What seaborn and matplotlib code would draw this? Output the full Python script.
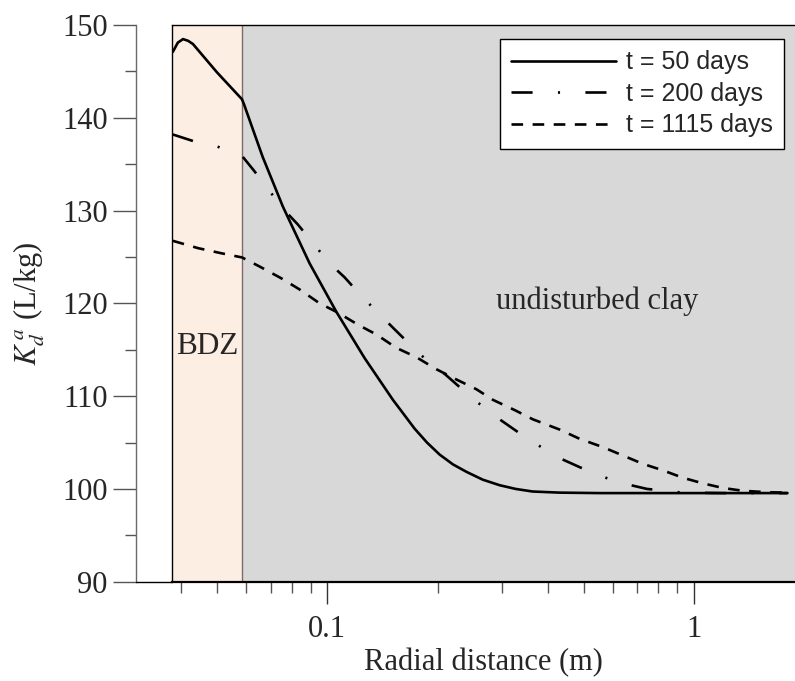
import numpy as np
import pandas as pd
import matplotlib
matplotlib.use('Agg')
import matplotlib.pyplot as plt
import seaborn as sns
from matplotlib.ticker import FixedLocator, NullFormatter, MultipleLocator

# ---------------- data ----------------
r_50 = [0.0379, 0.0391, 0.0404, 0.0417, 0.0430, 0.0500, 0.0585, 0.0592, 0.0666,
        0.0757, 0.0895, 0.1058, 0.1264, 0.1510, 0.1620, 0.1730, 0.1870, 0.2025,
        0.2200, 0.2394, 0.2653, 0.2951, 0.3263, 0.3631, 0.4302, 0.5532, 1.0000,
        1.8000]
kd_50 = [147.1, 148.1, 148.48, 148.3, 147.95, 144.9, 142.0, 141.5, 135.8,
         130.4, 124.3, 119.1, 114.1, 109.6, 108.0, 106.5, 105.0, 103.7,
         102.65, 101.85, 101.0, 100.4, 100.0, 99.72, 99.6, 99.55, 99.55,
         99.55]

r_200 = [0.0379, 0.0430, 0.0501, 0.0585, 0.0631, 0.0693, 0.0757, 0.0831, 0.0918,
         0.1015, 0.1115, 0.1238, 0.1374, 0.1517, 0.1687, 0.1921, 0.2089, 0.2354,
         0.2658, 0.2951, 0.3346, 0.3834, 0.4256, 0.4909, 0.5648, 0.6403, 0.7444,
         0.9312, 1.2000, 1.8000]
kd_200 = [138.2, 137.5, 136.9, 135.9, 134.3, 132.2, 130.2, 128.5, 126.4,
          124.3, 122.8, 120.8, 119.0, 117.3, 115.5, 113.4, 112.4, 110.6,
          108.85, 107.5, 106.0, 104.5, 103.4, 102.3, 101.3, 100.6, 100.0,
          99.6, 99.55, 99.55]

r_1115 = [0.0379, 0.0444, 0.0514, 0.0585, 0.0655, 0.0749, 0.0840, 0.0953, 0.1069,
          0.1212, 0.1360, 0.1543, 0.1749, 0.1984, 0.2248, 0.2549, 0.2830, 0.3243,
          0.3637, 0.4301, 0.4878, 0.5648, 0.6403, 0.7259, 0.8232, 0.9333, 1.0583,
          1.1999, 1.3600, 1.5760, 1.8000]
kd_1115 = [126.74, 125.95, 125.4, 124.95, 123.95, 122.7, 121.5, 120.0, 119.0,
           117.7, 116.65, 115.2, 114.2, 112.9, 111.8, 110.75, 109.6, 108.5,
           107.5, 106.4, 105.4, 104.5, 103.6, 102.7, 102.0, 101.2, 100.6,
           100.1, 99.8, 99.65, 99.6]

series_labels = ['t = 50 days', 't = 200 days', 't = 1115 days']
x_major = [0.1, 1]
x_major_labels = ['0.1', '1']
x_minor = [0.04, 0.05, 0.06, 0.07, 0.08, 0.09, 0.2, 0.3, 0.4, 0.5, 0.6, 0.7, 0.8, 0.9]
bdz_edge = 0.0585
x_lo, x_hi = 0.0377, 1.887

# ---------------- figure ----------------
sns.set_style('ticks')
plt.rcParams['font.family'] = ['Liberation Serif', 'DejaVu Serif']
plt.rcParams['mathtext.fontset'] = 'stix'

W, H = 795, 681
fig = plt.figure(figsize=(W / 100, H / 100), dpi=100)
ax_l, ax_r, ax_b, ax_t = 172, 795, 581.7, 25
ax = fig.add_axes([ax_l / W, 1 - ax_b / H, (ax_r - ax_l) / W, (ax_b - ax_t) / H])
ax.set_xscale('log')
ax.set_xlim(x_lo, x_hi)
ax.set_ylim(90, 150)

ax.axvspan(x_lo, bdz_edge, facecolor='#fdeee4', edgecolor='none', zorder=0)
ax.axvspan(bdz_edge, x_hi, facecolor='#d8d8d8', edgecolor='none', zorder=0)
ax.axvline(bdz_edge, color='#7d6b6b', lw=1, zorder=1)

lw = 1.9
sns.lineplot(x=r_50, y=kd_50, ax=ax, color='black', lw=lw, linestyle='-',
             label=series_labels[0], zorder=3)
sns.lineplot(x=r_200, y=kd_200, ax=ax, color='black', lw=lw,
             linestyle=(0, (8, 9.6, 0.8, 9.6)), label=series_labels[1], zorder=3)
sns.lineplot(x=r_1115, y=kd_1115, ax=ax, color='black', lw=lw,
             linestyle=(0, (4.4, 3.6)), label=series_labels[2], zorder=3)
for ln in ax.get_lines():
    ln.set_dash_capstyle('butt')
    ln.set_solid_joinstyle('round')

# spines
ax.spines['right'].set_visible(False)
ax.spines['top'].set_color('black')
ax.spines['top'].set_linewidth(1.0)
ax.spines['bottom'].set_color('black')
ax.spines['bottom'].set_linewidth(1.6)
ax.spines['left'].set_position(('outward', 36 * 72 / 100))
ax.spines['left'].set_color('#6a6a6a')
ax.spines['left'].set_linewidth(1.0)
ax.plot([0, 0], [0, 1], transform=ax.transAxes, color='black', lw=1.0, clip_on=False, zorder=4)
ax.plot([-36 / (ax_r - ax_l), 0], [0, 0], transform=ax.transAxes, color='black', lw=1.0,
        clip_on=False, zorder=4)

# ticks
ax.xaxis.set_major_locator(FixedLocator(x_major))
ax.set_xticklabels(x_major_labels)
ax.xaxis.set_minor_locator(FixedLocator(x_minor))
ax.xaxis.set_minor_formatter(NullFormatter())
ax.yaxis.set_major_locator(MultipleLocator(10))
ax.yaxis.set_minor_locator(MultipleLocator(5))
ax.tick_params(axis='x', which='major', direction='out', length=15.8, width=1,
               color='#333333', labelsize=22, pad=8)
ax.tick_params(axis='x', which='minor', direction='out', length=8, width=1, color='#555555')
ax.tick_params(axis='y', which='major', direction='out', length=16.5, width=1,
               color='#555555', labelsize=22, pad=4)
ax.tick_params(axis='y', which='minor', direction='out', length=8, width=1, color='#555555')

ax.set_xlabel('Radial distance (m)', fontsize=22, labelpad=3)
ax.set_ylabel(r'$K_d^{\,a}$ (L/kg)', fontsize=22, labelpad=11)

ax.text(0.0472, 115.4, 'BDZ', fontsize=22.5, ha='center', va='center', zorder=5)
ax.text(0.546, 120.2, 'undisturbed clay', fontsize=22, ha='center', va='center', zorder=5)

leg = ax.legend(loc='upper left', bbox_to_anchor=((500 - ax_l) / (ax_r - ax_l), (ax_b - 39) / (ax_b - ax_t)),
                borderaxespad=0, prop={'family': 'Liberation Sans', 'size': 18},
                handlelength=4.2, handletextpad=0.4, borderpad=0.45, labelspacing=0.3,
                frameon=True, fancybox=False, framealpha=1, edgecolor='black')
leg.get_frame().set_linewidth(1.0)
leg.set_zorder(6)

fig.savefig('out.png', dpi=100)
